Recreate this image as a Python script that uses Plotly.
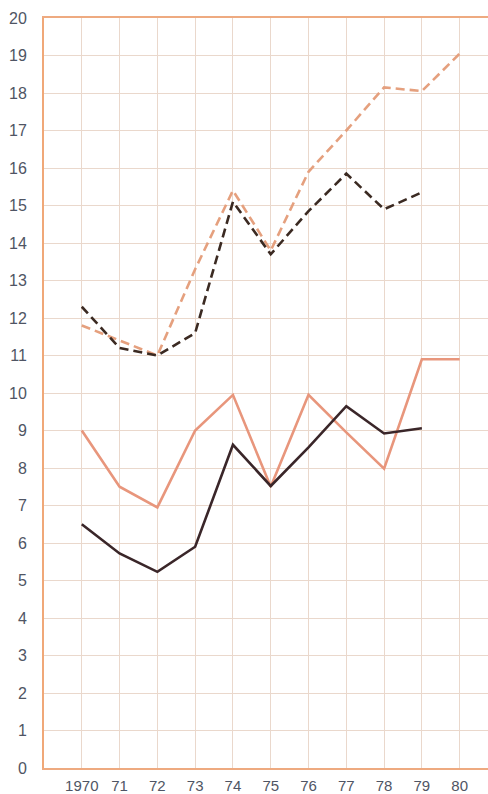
import plotly.graph_objects as go

years = [1970, 1971, 1972, 1973, 1974, 1975, 1976, 1977, 1978, 1979, 1980]
x_labels = ["1970", "71", "72", "73", "74", "75", "76", "77", "78", "79", "80"]

dashed_light = [11.8, 11.4, 11.0, 13.3, 15.4, 13.8, 15.9, 17.0, 18.15, 18.05, 19.05]
dashed_dark = [12.3, 11.2, 11.0, 11.6, 15.1, 13.7, 14.85, 15.85, 14.9, 15.35, None]
solid_light = [9.0, 7.5, 6.95, 9.0, 9.95, 7.5, 9.95, 8.95, 7.98, 10.9, 10.9]
solid_dark = [6.5, 5.72, 5.23, 5.9, 8.62, 7.52, 8.55, 9.65, 8.92, 9.06, None]

fig = go.Figure()
fig.add_trace(go.Scatter(x=years, y=dashed_light, mode="lines",
                         line=dict(color="#e5a07e", width=2.6, dash="9px,5px")))
fig.add_trace(go.Scatter(x=years, y=dashed_dark, mode="lines",
                         line=dict(color="#3b2a22", width=2.6, dash="9px,5px")))
fig.add_trace(go.Scatter(x=years, y=solid_light, mode="lines",
                         line=dict(color="#e8967c", width=2.6)))
fig.add_trace(go.Scatter(x=years, y=solid_dark, mode="lines",
                         line=dict(color="#3a2629", width=2.6)))

fig.update_layout(
    width=488, height=794,
    margin=dict(l=44, r=0, t=18, b=26),
    paper_bgcolor="white", plot_bgcolor="white",
    showlegend=False,
    font=dict(family="Liberation Sans, Arial, sans-serif", size=15, color="#4f5564"),
    xaxis=dict(range=[1969, 1980.75], tickvals=years, ticktext=x_labels,
               tickfont=dict(size=15),
               showgrid=True, gridcolor="#ead8cc", gridwidth=1.3,
               showline=True, linecolor="#eeaa80", linewidth=2, mirror=True,
               zeroline=False, ticks="", ticklabelstandoff=3,
               automargin=False, fixedrange=True),
    yaxis=dict(range=[0, 20], tickvals=list(range(0, 21)),
               tickfont=dict(size=16),
               showgrid=True, gridcolor="#ead8cc", gridwidth=1.3,
               showline=True, linecolor="#f0a878", linewidth=2,
               zeroline=False, ticks="", ticklabelstandoff=12,
               automargin=False, fixedrange=True),
)

fig.write_html(
    "out.html",
    config={"displayModeBar": False},
    post_script="document.body.style.margin='0';document.body.style.overflow='hidden';",
)
